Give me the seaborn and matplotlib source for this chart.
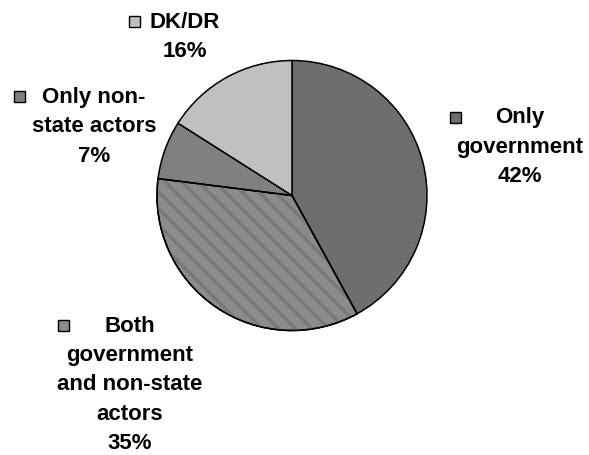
import matplotlib
matplotlib.use("Agg")
import matplotlib.pyplot as plt
import seaborn as sns
from matplotlib.patches import Rectangle, Wedge

sns.set_style("white")
plt.rcParams["font.family"] = ["Liberation Sans", "DejaVu Sans"]
plt.rcParams["hatch.linewidth"] = 2.4

# data (clockwise from 12 o'clock)
categories = ["Only government", "Both government and non-state actors",
              "Only non-state actors", "DK/DR"]
shares = [42, 35, 7, 16]
colors = ["#6e6e6e", "#8c8c8c", "#808080", "#c0c0c0"]
hatches = [None, "\\\\", None, None]
hatch_color = "#787878"
label_lines = [
    ["Only", "government", "42%"],
    ["Both", "government", "and non-state", "actors", "35%"],
    ["Only non-", "state actors", "7%"],
    ["DK/DR", "16%"],
]

W, H = 589, 456
fig = plt.figure(figsize=(W / 100, H / 100), dpi=100)
ax = fig.add_axes([0, 0, 1, 1])

def py(y):
    return H - y

wedges, _ = ax.pie(shares, colors=colors, startangle=90, counterclock=False,
                   center=(292, py(196.5)), radius=135, frame=True,
                   wedgeprops=dict(edgecolor="black", linewidth=1.1))
# stripes drawn as an overlay so they can be a softer grey than the outline
for w, h in zip(wedges, hatches):
    if h:
        ov = Wedge(w.center, w.r, w.theta1, w.theta2, facecolor="none",
                   edgecolor=hatch_color, linewidth=0, hatch=h, zorder=w.get_zorder())
        ax.add_patch(ov)
        outline = Wedge(w.center, w.r, w.theta1, w.theta2, facecolor="none",
                        edgecolor="black", linewidth=1.1, zorder=w.get_zorder() + 0.1)
        ax.add_patch(outline)
ax.set_xlim(0, W)
ax.set_ylim(0, H)
ax.set_axis_off()

# label placement: text centre x, first line y, key square x
label_pos = [(520, 118, 455), (130, 326, 63), (94, 97, 19), (185, 22, 134)]
line_gap = 29.5

for lines, (tx, ty, sx), col in zip(label_lines, label_pos, colors):
    for i, s in enumerate(lines):
        ax.text(tx, py(ty + i * line_gap), s, ha="center", va="center",
                fontsize=16, fontweight="bold", color="black")
    ax.add_patch(Rectangle((sx - 5.5, py(ty) - 5.5), 11, 11, facecolor=col,
                           edgecolor="black", linewidth=1.0))

fig.savefig("out.png", dpi=100, facecolor="white")
